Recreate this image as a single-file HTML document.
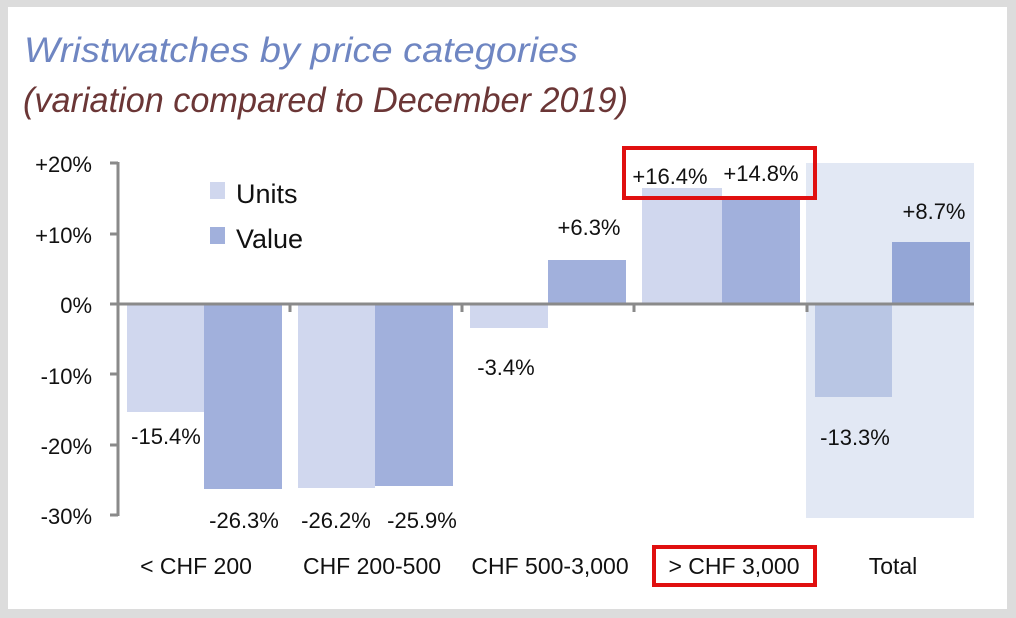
<!DOCTYPE html>
<html><head><meta charset="utf-8"><style>
body{margin:0;background:#dcdcdc;}
svg{display:block;font-family:"Liberation Sans",sans-serif;}
</style></head><body>
<svg width="1016" height="618" viewBox="0 0 1016 618">
<rect x="0" y="0" width="1016" height="618" fill="#dcdcdc"/>
<rect x="8" y="7" width="999" height="602" fill="#fff"/>
<text x="24" y="62" font-size="35" font-style="italic" fill="#6f86c2" textLength="554" lengthAdjust="spacingAndGlyphs">Wristwatches by price categories</text>
<text x="23" y="112" font-size="35" font-style="italic" fill="#6b3636" textLength="605" lengthAdjust="spacingAndGlyphs">(variation compared to December 2019)</text>
<rect x="806" y="163" width="168" height="355" fill="#e2e8f4"/>
<g>
<rect x="127" y="304" width="77" height="108" fill="#d0d7ee"/>
<rect x="204" y="304" width="78" height="185" fill="#a1b0dc"/>
<rect x="298" y="304" width="77" height="184" fill="#d0d7ee"/>
<rect x="375" y="304" width="78" height="182" fill="#a1b0dc"/>
<rect x="470" y="304" width="78" height="24" fill="#d0d7ee"/>
<rect x="548" y="260" width="78" height="44" fill="#a1b0dc"/>
<rect x="642" y="188" width="80" height="116" fill="#d0d7ee"/>
<rect x="722" y="200" width="78" height="104" fill="#a1b0dc"/>
<rect x="815" y="304" width="77" height="93" fill="#b9c6e4"/>
<rect x="892" y="242" width="78" height="62" fill="#94a6d6"/>
</g>
<g stroke="#8a8a8a" stroke-width="3">
<line x1="118" y1="162" x2="118" y2="516"/>
<line x1="110" y1="163" x2="118" y2="163"/>
<line x1="110" y1="234" x2="118" y2="234"/>
<line x1="110" y1="374" x2="118" y2="374"/>
<line x1="110" y1="445" x2="118" y2="445"/>
<line x1="110" y1="515" x2="118" y2="515"/>
<line x1="110" y1="304" x2="974" y2="304"/>
<line x1="290" y1="304" x2="290" y2="312"/>
<line x1="462" y1="304" x2="462" y2="312"/>
<line x1="634" y1="304" x2="634" y2="312"/>
<line x1="807" y1="304" x2="807" y2="312"/>
</g>
<g font-size="22" fill="#111" text-anchor="end">
<text x="92" y="172">+20%</text>
<text x="92" y="243">+10%</text>
<text x="92" y="313">0%</text>
<text x="92" y="384">-10%</text>
<text x="92" y="454">-20%</text>
<text x="92" y="524">-30%</text>
</g>
<rect x="210" y="182" width="15" height="17" fill="#d0d7ee"/>
<rect x="210" y="227" width="15" height="17" fill="#a1b0dc"/>
<text x="236" y="203" font-size="27" fill="#111">Units</text>
<text x="236" y="248" font-size="27" fill="#111">Value</text>
<g font-size="22" fill="#111" text-anchor="middle">
<text x="166" y="444">-15.4%</text>
<text x="244" y="528">-26.3%</text>
<text x="336" y="528">-26.2%</text>
<text x="422" y="528">-25.9%</text>
<text x="506" y="375">-3.4%</text>
<text x="589" y="235">+6.3%</text>
<text x="670" y="184">+16.4%</text>
<text x="761" y="181">+14.8%</text>
<text x="934" y="219">+8.7%</text>
<text x="855" y="445">-13.3%</text>
</g>
<g font-size="23" fill="#111" text-anchor="middle">
<text x="196" y="574">&lt; CHF 200</text>
<text x="372" y="574">CHF 200-500</text>
<text x="550" y="574">CHF 500-3,000</text>
<text x="734" y="574">&gt; CHF 3,000</text>
<text x="893" y="574">Total</text>
</g>
<rect x="624" y="148" width="191" height="50" fill="none" stroke="#e01010" stroke-width="4"/>
<rect x="654" y="547" width="161" height="38" fill="none" stroke="#e01010" stroke-width="4"/>
</svg>
</body></html>
